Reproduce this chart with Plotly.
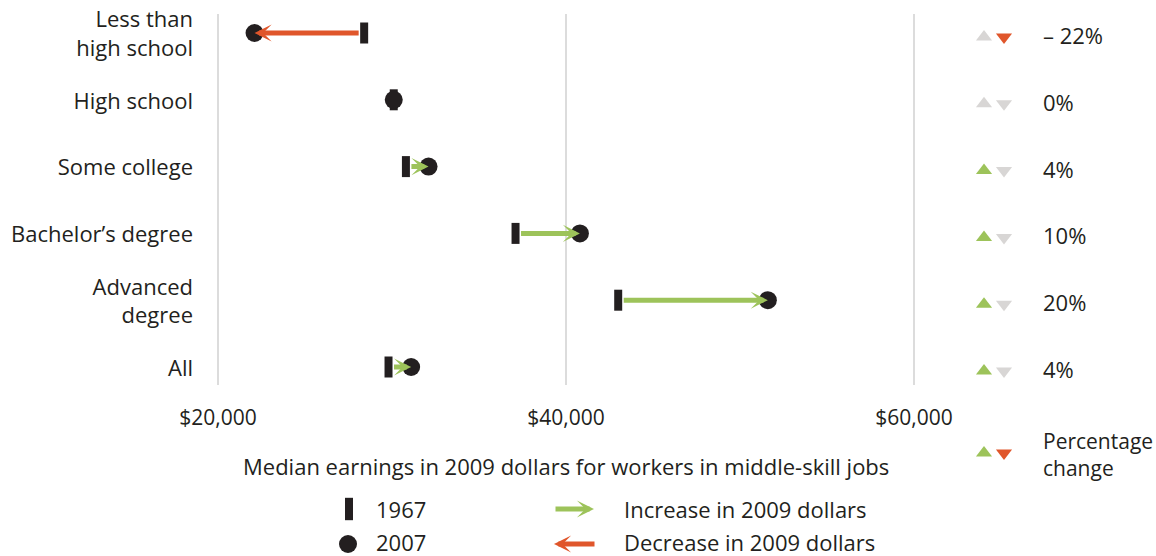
import plotly.graph_objects as go

# Median earnings (2009 dollars) for workers in middle-skill jobs
categories = ["Less than<br>high school", "High school", "Some college",
              "Bachelor’s degree", "Advanced<br>degree", "All"]
earnings_1967 = [28400, 30100, 30800, 37100, 43000, 29800]
earnings_2007 = [22100, 30100, 32100, 40800, 51600, 31100]
x_ticks = [20000, 40000, 60000]
x_tick_labels = ["$20,000", "$40,000", "$60,000"]

W, H = 1156, 556
FONT = "Open Sans"
FS = 22
FS_NUM = 21
INK = "#231f20"
GREEN = "#9dc35a"
ORANGE = "#e0562b"
GREY = "#d8d6d5"
GRID = "#dcdcdc"


def fx(px):
    return px / W


def fy(py):
    return 1 - py / H


# horizontal scale: $20k at px 218, $60k at px 914
plot_left, plot_right = 200, 940
px_per_dollar = (914 - 218) / 40000
x_range = [20000 - (218 - plot_left) / px_per_dollar,
           20000 + (plot_right - 218) / px_per_dollar]

# vertical scale: first row at px 33, last row at px 367
plot_top, plot_bottom = 14, 385
pitch = (367 - 33) / (len(categories) - 1)
y_range = [len(categories) - 1 + (plot_bottom - 367) / pitch, -(33 - plot_top) / pitch]
# the percentage column sits a few pixels lower than the dumbbells
col_drop = 4 / pitch
y2_range = [y_range[0] - col_drop, y_range[1] - col_drop]

rows = list(range(len(categories)))
pct = [round((b - a) / a * 100) for a, b in zip(earnings_1967, earnings_2007)]
pct_labels = [("– %d%%" % abs(p)) if p < 0 else ("%d%%" % p) for p in pct]

fig = go.Figure()

# 1967 markers (thin vertical bars)
fig.add_trace(go.Scatter(
    x=earnings_1967, y=rows, mode="markers",
    marker=dict(symbol="line-ns", size=15, line=dict(width=8, color=INK), color=INK),
    hoverinfo="skip", showlegend=False))
# 2007 markers (dots)
fig.add_trace(go.Scatter(
    x=earnings_2007, y=rows, mode="markers",
    marker=dict(symbol="circle", size=18, color=INK, line=dict(width=0)),
    hoverinfo="skip", showlegend=False))

annotations = []
for r, a, b in zip(rows, earnings_1967, earnings_2007):
    if a == b:
        continue
    annotations.append(dict(
        x=b, y=r, ax=a, ay=r, xref="x", yref="y", axref="x", ayref="y",
        showarrow=True, arrowhead=3, arrowsize=0.57, arrowwidth=5,
        arrowcolor=GREEN if b > a else ORANGE, startstandoff=4, standoff=0, text=""))

# percentage change column
up_colors = [GREEN if p > 0 else GREY for p in pct]
down_colors = [ORANGE if p < 0 else GREY for p in pct]
fig.add_trace(go.Scatter(
    x=[984] * len(rows), y=rows, xaxis="x2", yaxis="y2", mode="markers",
    marker=dict(symbol="triangle-up", size=14, color=up_colors, line=dict(width=0)),
    hoverinfo="skip", showlegend=False))
fig.add_trace(go.Scatter(
    x=[1004] * len(rows), y=rows, xaxis="x2", yaxis="y2", mode="markers",
    marker=dict(symbol="triangle-down", size=14, color=down_colors, line=dict(width=0)),
    hoverinfo="skip", showlegend=False))
for r, t in zip(rows, pct_labels):
    annotations.append(dict(x=1041, y=r, xref="x2", yref="y2", text=t, showarrow=False,
                            xanchor="left", yanchor="middle", yshift=2,
                            font=dict(family=FONT, size=FS, color=INK)))

# key (drawn on a full-width axis below the plot)
fig.add_trace(go.Scatter(
    x=[349], y=[509], xaxis="x3", yaxis="y3", mode="markers",
    marker=dict(symbol="line-ns", size=16, line=dict(width=8, color=INK), color=INK),
    hoverinfo="skip", showlegend=False))
fig.add_trace(go.Scatter(
    x=[348], y=[544], xaxis="x3", yaxis="y3", mode="markers",
    marker=dict(symbol="circle", size=18, color=INK),
    hoverinfo="skip", showlegend=False))
fig.add_trace(go.Scatter(
    x=[984, 1004], y=[453, 453], xaxis="x3", yaxis="y3", mode="markers",
    marker=dict(symbol=["triangle-up", "triangle-down"], size=14,
                color=[GREEN, ORANGE], line=dict(width=0)),
    hoverinfo="skip", showlegend=False))

key_text = [(374, 509, "1967", FS), (374, 542, "2007", FS),
            (622, 509, "Increase in 2009 dollars", FS),
            (622, 542, "Decrease in 2009 dollars", FS),
            (1041, 454, "Percentage<br>change", 21)]
for x, y, t, s in key_text:
    annotations.append(dict(x=x, y=y, xref="x3", yref="y3", text=t, showarrow=False,
                            xanchor="left", yanchor="middle", align="left",
                            font=dict(family=FONT, size=s, color=INK)))
annotations.append(dict(x=594, y=509, ax=554, ay=509, xref="x3", yref="y3",
                        axref="x3", ayref="y3", showarrow=True, arrowhead=3,
                        arrowsize=0.57, arrowwidth=5, arrowcolor=GREEN, text=""))
annotations.append(dict(x=554, y=544, ax=596, ay=544, xref="x3", yref="y3",
                        axref="x3", ayref="y3", showarrow=True, arrowhead=3,
                        arrowsize=0.57, arrowwidth=5, arrowcolor=ORANGE, text=""))
annotations.append(dict(x=566, y=466, xref="x3", yref="y3", showarrow=False,
                        text="Median earnings in 2009 dollars for workers in middle-skill jobs",
                        xanchor="center", yanchor="middle",
                        font=dict(family=FONT, size=FS, color=INK)))

fig.update_layout(
    width=W, height=H, margin=dict(l=0, r=0, t=0, b=0),
    paper_bgcolor="white", plot_bgcolor="rgba(0,0,0,0)",
    font=dict(family=FONT, size=FS, color=INK),
    showlegend=False,
    xaxis=dict(domain=[fx(plot_left), fx(plot_right)], range=x_range,
               tickvals=x_ticks, ticktext=x_tick_labels, showgrid=True,
               gridcolor=GRID, gridwidth=2, zeroline=False, showline=False,
               ticks="", ticklabelstandoff=18, automargin=False,
               tickfont=dict(family=FONT, size=FS_NUM, color=INK)),
    yaxis=dict(domain=[fy(plot_bottom), fy(plot_top)], range=y_range,
               tickvals=rows, ticktext=categories, showgrid=False,
               zeroline=False, showline=False, ticks="", ticklabelstandoff=6,
               ticklabelshift=-1,
               automargin=False, tickfont=dict(family=FONT, size=FS, color=INK)),
    xaxis2=dict(domain=[fx(plot_right), 1], range=[plot_right, W], anchor="y2",
                visible=False),
    yaxis2=dict(domain=[fy(plot_bottom), fy(plot_top)], range=y2_range, anchor="x2",
                visible=False),
    xaxis3=dict(domain=[0, 1], range=[0, W], anchor="y3", visible=False),
    yaxis3=dict(domain=[0, fy(430)], range=[H, 430], anchor="x3", visible=False),
    annotations=annotations,
)

fig.write_html("out.html")
